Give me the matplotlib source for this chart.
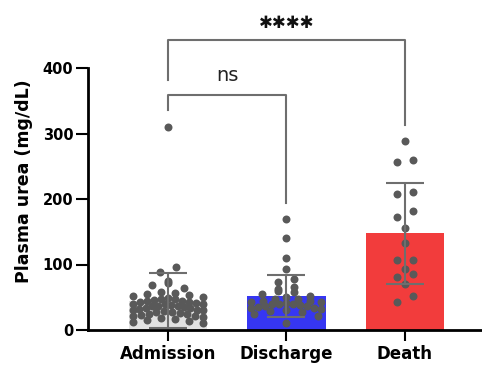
import matplotlib
matplotlib.use("Agg")
import matplotlib.pyplot as plt
import numpy as np

plt.rcParams['font.family'] = ['DejaVu Sans']

groups = ["Admission", "Discharge", "Death"]
bar_colors = ["#e2e2e2", "#3636f2", "#f23c3c"]

admission = [310, 96, 88, 75, 72, 68, 64, 58, 56, 55, 53, 52, 50, 49, 48, 47, 46,
             45, 44, 43, 42, 41, 40, 40, 39, 38, 37, 36, 36, 35, 34, 33, 32, 31,
             30, 30, 29, 28, 27, 26, 25, 24, 23, 22, 21, 20, 18, 17, 16, 14, 12, 10]
discharge = [169, 140, 110, 93, 78, 74, 66, 62, 60, 58, 55, 52, 50, 48, 47, 45,
             44, 43, 42, 41, 40, 40, 39, 38, 37, 36, 35, 34, 33, 32, 30, 29, 27,
             25, 22, 11]
death = [288, 260, 256, 208, 211, 173, 182, 156, 133, 107, 107, 93, 85, 81, 70,
         52, 43]
values = [admission, discharge, death]

# significance brackets: (left group, right group, left end, top, right end, label)
brackets = [
    (0, 1, 336, 359, 194, "ns"),
    (0, 2, 381, 443, 313, "✱✱✱✱"),
]

POINT_COLOR = "#595959"
LINE_COLOR = "#6e6e6e"


def row_offsets(ys, row_h, max_gap, max_width):
    """GraphPad-like scatter: points binned into rows, spread evenly in each row."""
    order = np.argsort(ys)
    offs = np.zeros(len(ys))
    rows, cur = [], []
    for i in order:
        if cur and ys[i] - ys[cur[0]] >= row_h:
            rows.append(cur)
            cur = []
        cur.append(i)
    rows.append(cur)
    for row in rows:
        n = len(row)
        if n == 1:
            continue
        gap = min(max_gap, max_width / (n - 1))
        slots = [(k - (n - 1) / 2) * gap for k in range(n)]
        if n > 2:
            # highest points in the middle, lower ones towards the edges
            slots.sort(key=lambda s: (abs(s), s))
            row = sorted(row, key=lambda i: -ys[i])
        for s, i in zip(slots, row):
            offs[i] = s
    return offs


fig = plt.figure(figsize=(4.82, 3.65), dpi=100)
ax = fig.add_axes([88 / 482, 35 / 365, 394 / 482, 314.4 / 365])
ax.set_xlim(-0.675, 2.65)
ax.set_ylim(0, 480)

x = np.arange(len(groups))
means = [np.mean(v) for v in values]
sds = [np.std(v, ddof=1) for v in values]

ax.bar(x, means, width=0.66, color=bar_colors, zorder=1)

px_per_unit = ax.transData.transform((1, 0))[0] - ax.transData.transform((0, 0))[0]
for i, v in enumerate(values):
    v = np.array(v, dtype=float)
    ys_px = ax.transData.transform(np.column_stack([np.zeros_like(v), v]))[:, 1]
    offs = row_offsets(ys_px, 6.5, 16.0, 70.0) / px_per_unit
    ax.scatter(x[i] + offs, v, s=33, color=POINT_COLOR, linewidths=0, zorder=2)

ax.errorbar(x, means, yerr=sds, fmt="none", ecolor=LINE_COLOR, elinewidth=1.5,
            capsize=14, capthick=1.5, zorder=3)

for g1, g2, y1, ytop, y2, label in brackets:
    ax.plot([g1, g1, g2, g2], [y1, ytop, ytop, y2], color=LINE_COLOR, lw=1.5,
            clip_on=False, zorder=3)
    if label == "ns":
        ax.text((g1 + g2) / 2, ytop + 30, label, ha="center", va="center",
                fontsize=14, color="#222222")
    else:
        ax.text((g1 + g2) / 2, ytop + 25, label, ha="center", va="center",
                fontsize=12, color="#111111")

ax.spines["top"].set_visible(False)
ax.spines["right"].set_visible(False)
ax.spines["left"].set_bounds(0, 400)
ax.spines["left"].set_linewidth(2)
ax.spines["bottom"].set_linewidth(2)

ax.set_yticks([0, 100, 200, 300, 400])
ax.set_xticks(x)
ax.set_xticklabels(groups, fontsize=12, fontweight="bold")
for lab in ax.get_yticklabels():
    lab.set_fontsize(10.5)
    lab.set_fontweight("bold")
ax.tick_params(axis="y", length=9, width=1.5, pad=1.5)
ax.tick_params(axis="x", length=8, width=1.5, pad=3)

ax.set_ylabel("Plasma urea (mg/dL)", fontsize=12.5, fontweight="bold")
ax.yaxis.set_label_coords(-0.14, 0.472)

fig.savefig("out.png", dpi=100)
